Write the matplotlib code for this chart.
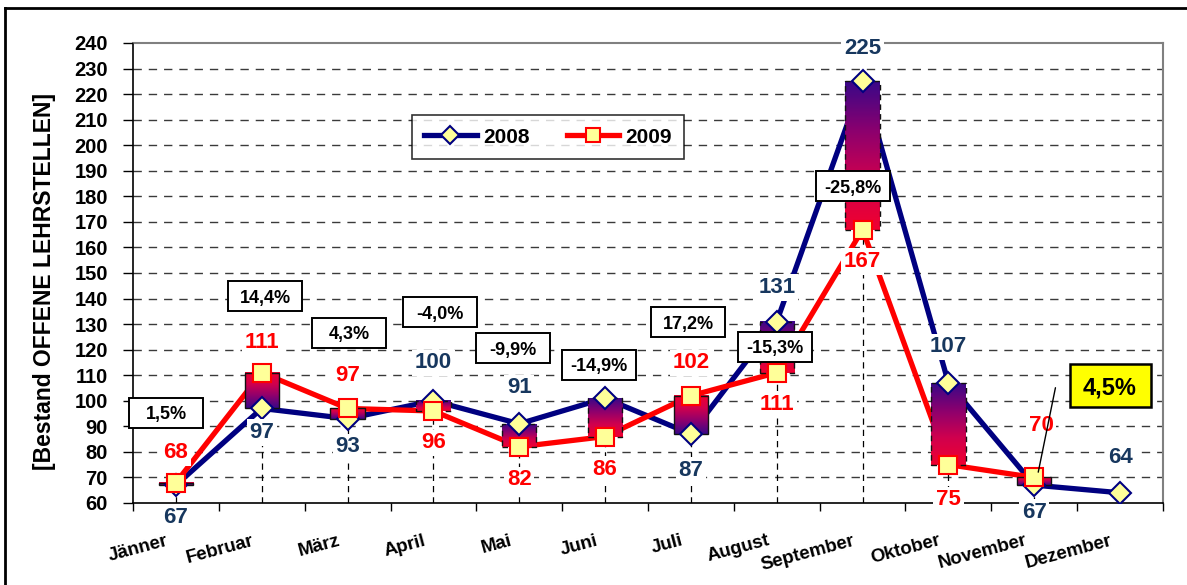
import numpy as np
import matplotlib
matplotlib.use("Agg")
import matplotlib.pyplot as plt
import matplotlib.transforms as mtransforms
from matplotlib.colors import LinearSegmentedColormap
from matplotlib.lines import Line2D
from matplotlib.patches import Rectangle

plt.rcParams["font.family"] = ["Liberation Sans", "DejaVu Sans"]
plt.rcParams["font.weight"] = "bold"

# Data
months = ["Jänner", "Februar", "März", "April", "Mai", "Juni", "Juli",
          "August", "September", "Oktober", "November", "Dezember"]
v2008 = [67, 97, 93, 100, 91, 101, 87, 131, 225, 107, 67, 64]
v2009 = [68, 111, 97, 96, 82, 86, 102, 111, 167, 75, 70]
show_pct = [True, True, True, True, True, True, True, True, True, False, True]

# label offsets in pixels (negative = above, None = hidden)
off2008 = [32, 24, 28, -38, -36, None, 36, -34, -33, -36, 27, -35]
off2009 = [-30, -30, -33, 32, 33, 33, -33, 32, 32, 35, -52]
dx2009 = [0, 0, 0, 0, 0, 0, 0, 0, 0, 0, 7]
# percentage box centres (pixels) and sizes
pct_pos = [(166, 413), (265, 296), (349, 333), (440, 312), (513, 348),
           (599, 365), (688, 322), (775, 347), (853, 186), None, (1110, 385)]

W, H = 1187, 585
fig = plt.figure(figsize=(W / 100, H / 100), dpi=100)
ax = fig.add_axes([133 / W, 1 - 503 / H, (1163 - 133) / W, 460 / H])

x08 = np.arange(len(v2008))
x09 = np.arange(len(v2009))
navy = "#000080"
red = "#FF0000"
lab_blue = "#17375E"

# grid and drop lines
for y in range(70, 240, 10):
    ax.axhline(y, color="#3a3a3a", lw=1, ls=(0, (6, 5)), zorder=0)
for i in x08:
    top = max(v2008[i], v2009[i]) if i < len(v2009) else v2008[i]
    ax.plot([i, i], [60, top], color="black", lw=0.9, ls=(0, (5, 4)), zorder=0.5)

# lines
ax.plot(x08, v2008, color=navy, lw=3.8, zorder=2, solid_capstyle="round")
ax.plot(x09, v2009, color=red, lw=3.8, zorder=2, solid_capstyle="round")

# up/down bars with gradient (navy end at 2008, red end at 2009)
cmap = LinearSegmentedColormap.from_list(
    "ud", ["#F00030", "#D0004E", "#8C006E", "#3A0888"])
bw = 0.4
for i in x09:
    a, b = v2009[i], v2008[i]
    lo, hi = min(a, b), max(a, b)
    grad = np.linspace(0, 1, 100).reshape(-1, 1)
    if a > b:
        grad = grad[::-1]
    ax.imshow(grad, cmap=cmap, aspect="auto", origin="lower",
              extent=(i - bw / 2, i + bw / 2, lo, hi), zorder=3,
              interpolation="bilinear")
    ls = (0, (4, 3)) if b > a else "-"
    ax.add_patch(Rectangle((i - bw / 2, lo), bw, hi - lo, fill=False,
                           ec="#111111", lw=1, ls=ls, zorder=3.1))

# markers
ax.plot(x08, v2008, ls="none", marker="D", ms=11, mfc="#FFFF99",
        mec=navy, mew=1.5, zorder=4)
ax.plot(x09, v2009, ls="none", marker="s", ms=13, mfc="#FFFF99",
        mec=red, mew=1.5, zorder=4.1)

# value labels
px = 72 / 100
for i, v in enumerate(v2008):
    if off2008[i] is None:
        continue
    ax.annotate(str(v), (i, v), xytext=(0, -off2008[i] * px),
                textcoords="offset points", ha="center", va="center",
                fontsize=16, fontweight="bold", color=lab_blue, zorder=5,
                bbox=dict(boxstyle="square,pad=0.12", fc="white", ec="none"))
for i, v in enumerate(v2009):
    ax.annotate(str(v), (i, v), xytext=(dx2009[i] * px, -off2009[i] * px),
                textcoords="offset points", ha="center", va="center",
                fontsize=16, fontweight="bold", color=red, zorder=5,
                bbox=dict(boxstyle="square,pad=0.12", fc="white", ec="none"))

# percentage boxes
for i in x09:
    if not show_pct[i]:
        continue
    pct = (v2009[i] - v2008[i]) / v2008[i] * 100
    txt = f"{pct:.1f}%".replace(".", ",")
    cx, cy = pct_pos[i]
    if i == 10:
        ax.annotate("", xy=(i + 0.04, v2009[i] + 1), xycoords="data",
                    xytext=(1056 / W, 1 - 385 / H), textcoords="figure fraction",
                    arrowprops=dict(arrowstyle="-", color="black", lw=1),
                    zorder=6)
        bwid, bhgt, fc, fs, lw = 81, 43, "#FFFF00", 17, 1.8
    else:
        bwid, bhgt, fc, fs, lw = 74, 30, "white", 13, 1.4
    fig.add_artist(Rectangle(((cx - bwid / 2) / W, 1 - (cy + bhgt / 2) / H),
                             bwid / W, bhgt / H, fc=fc, ec="black", lw=lw,
                             transform=fig.transFigure, zorder=7))
    fig.text(cx / W, 1 - cy / H, txt, ha="center", va="center_baseline",
             fontsize=fs, fontweight="bold", zorder=8)

# axes styling
ax.set_xlim(-0.5, 11.5)
ax.set_ylim(60, 240)
ax.set_yticks(range(60, 241, 10))
ax.tick_params(axis="y", labelsize=14.5, length=7, width=1, direction="out",
               pad=11)
for t in ax.get_yticklabels():
    t.set_fontweight("bold")
ax.set_xticks(x08)
ax.set_xticklabels(months, rotation=15, ha="right", rotation_mode="anchor",
                   fontsize=13.5, fontweight="bold")
ax.tick_params(axis="x", length=0, pad=21)
ax.set_xticks(np.arange(-0.5, 12, 1), minor=True)
ax.tick_params(axis="x", which="minor", length=6, width=1, direction="out")
shift = mtransforms.ScaledTranslation(-10 / 100, 0, fig.dpi_scale_trans)
for lbl in ax.get_xticklabels():
    lbl.set_transform(lbl.get_transform() + shift)

ax.spines["left"].set_color("black")
ax.spines["bottom"].set_color("black")
ax.spines["left"].set_linewidth(1.2)
ax.spines["bottom"].set_linewidth(1.2)
ax.spines["top"].set_color("#808080")
ax.spines["right"].set_color("#808080")
ax.spines["top"].set_linewidth(1.5)
ax.spines["right"].set_linewidth(1.5)
for s in ax.spines.values():
    s.set_zorder(1)

fig.text(45 / W, 1 - 281 / H, "[Bestand OFFENE LEHRSTELLEN]", rotation=90,
         ha="center", va="center", fontsize=16.5, fontweight="bold")

# legend
handles = [
    Line2D([], [], color=navy, lw=3.8, marker="D", ms=9, mfc="#FFFF99",
           mec=navy, mew=1.5),
    Line2D([], [], color=red, lw=3.8, marker="s", ms=10, mfc="#FFFF99",
           mec=red, mew=1.5),
]
leg = fig.legend(handles, ["2008", "2009"], loc="center",
                 bbox_to_anchor=(548 / W, 1 - 137 / H), ncol=2,
                 frameon=True, fancybox=False, edgecolor="black",
                 handlelength=2.5, columnspacing=1.8, borderpad=0.6,
                 borderaxespad=0, handletextpad=0.3,
                 prop=dict(weight="bold", size=15))
leg.get_frame().set_linewidth(1.2)

# outer frame (top and left only)
fig.add_artist(Line2D([5 / W, 1], [1 - 8 / H, 1 - 8 / H], color="black",
                      lw=2, transform=fig.transFigure))
fig.add_artist(Line2D([5 / W, 5 / W], [1 - 8 / H, 0], color="black",
                      lw=2, transform=fig.transFigure))

fig.savefig("out.png", dpi=100)
